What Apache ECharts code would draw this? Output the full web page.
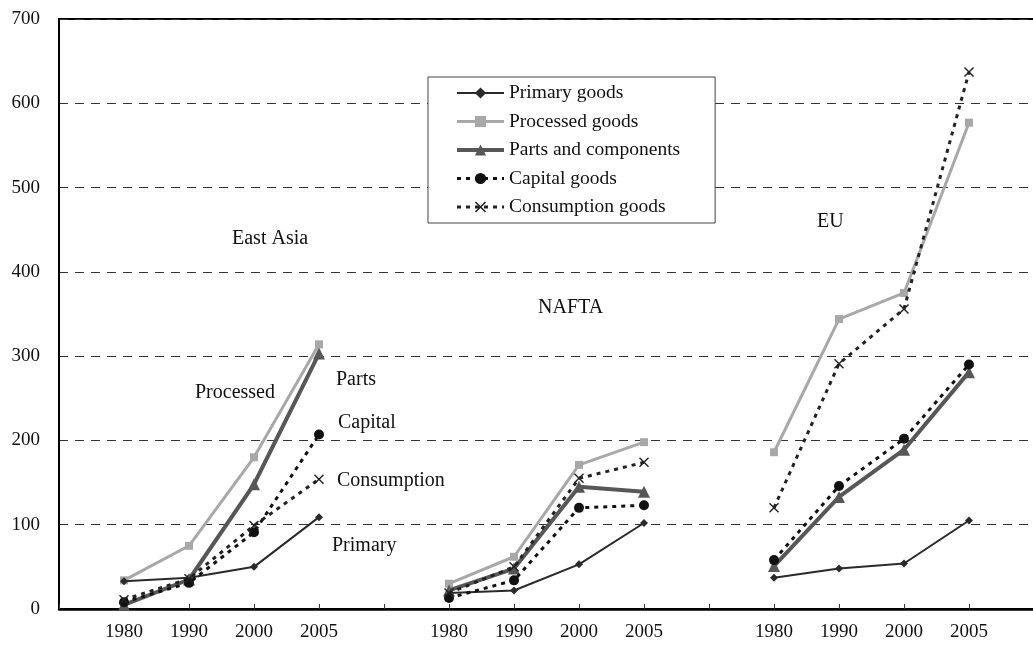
<!DOCTYPE html>
<html>
<head>
<meta charset="utf-8">
<script src="https://cdn.jsdelivr.net/npm/echarts@6/dist/echarts.min.js"></script>
<style>
  html, body { margin: 0; padding: 0; background: #fff; }
  #chart { width: 1033px; height: 648px; }
</style>
</head>
<body>
<div id="chart"></div>
<script>
// x categories: blank slots separate the three regions
const xLabels = ['', '1980', '1990', '2000', '2005', '', '1980', '1990', '2000', '2005', '', '1980', '1990', '2000', '2005', ''];
const yTicks = [0, 100, 200, 300, 400, 500, 600, 700];

// values per series: East Asia (4), NAFTA (4), EU (4)
const primary     = [33, 37, 50, 109,   19, 22, 53, 102,   37, 48, 54, 105];
const processed   = [34, 75, 180, 314,  30, 62, 171, 198,  186, 344, 375, 577];
const parts       = [5, 35, 148, 303,   22, 48, 145, 139,  51, 133, 189, 281];
const capital     = [8, 31, 91, 207,    13, 34, 120, 123,  58, 146, 202, 290];
const consumption = [11, 36, 99, 154,   19, 50, 155, 174,  120, 291, 356, 637];

const seriesNames = ['Primary goods', 'Processed goods', 'Parts and components', 'Capital goods', 'Consumption goods'];

// region labels and curve labels
const notes = [
  { text: 'East Asia', x: 232, y: 240 },
  { text: 'NAFTA', x: 538, y: 309 },
  { text: 'EU', x: 817, y: 223 },
  { text: 'Processed', x: 195, y: 394 },
  { text: 'Parts', x: 336, y: 381 },
  { text: 'Capital', x: 338, y: 424 },
  { text: 'Consumption', x: 337, y: 482 },
  { text: 'Primary', x: 332, y: 547 }
];

// put the 12 values into the 16 slots, leaving the gaps empty
function spread(vals) {
  const out = [];
  let k = 0;
  for (let i = 0; i < xLabels.length; i++) {
    out.push(xLabels[i] === '' ? null : vals[k++]);
  }
  return out;
}

const serif = '"Liberation Serif", "DejaVu Serif", serif';
const crossPath = 'path://M0,1 L1,0 L5,4 L9,0 L10,1 L6,5 L10,9 L9,10 L5,6 L1,10 L0,9 L4,5 Z';

const styles = [
  { symbol: 'diamond', size: 8, color: '#2a2a2a', width: 2, type: 'solid', z: 3 },
  { symbol: 'rect', size: 8, color: '#a8a8a8', width: 3, type: 'solid', z: 2 },
  { symbol: 'triangle', size: 12, color: '#575757', width: 4, type: 'solid', z: 4 },
  { symbol: 'circle', size: 10, color: '#111', width: 3, type: [4, 5], z: 5 },
  { symbol: crossPath, size: 10, color: '#222', width: 3, type: [4, 5], z: 5 }
];
const values = [primary, processed, parts, capital, consumption];

const chart = echarts.init(document.getElementById('chart'));

const option = {
  animation: false,
  backgroundColor: '#fff',
  textStyle: { fontFamily: serif },
  grid: {
    left: 59, right: -1, top: 19, bottom: 39,
    outerBoundsMode: 'none',
    show: true, borderColor: '#000', borderWidth: 2
  },
  legend: {
    data: seriesNames.map((n, i) => ({
      name: n,
      lineStyle: { width: styles[i].width, color: styles[i].color, type: styles[i].type }
    })),
    orient: 'vertical',
    left: 428, top: 77,
    padding: [6, 35, 6, 27],
    itemWidth: 47, itemHeight: 14, itemGap: 8.5,
    backgroundColor: '#fff',
    borderColor: '#444', borderWidth: 1,
    textStyle: { fontFamily: serif, fontSize: 19.5, color: '#111', lineHeight: 20 }
  },
  xAxis: {
    type: 'category',
    data: xLabels,
    boundaryGap: false,
    axisLine: { lineStyle: { color: '#000', width: 2.5 } },
    axisTick: { show: true, inside: true, length: 5, interval: 0, lineStyle: { color: '#333' } },
    axisLabel: { interval: 0, margin: 14, fontFamily: serif, fontSize: 19, color: '#111' },
    splitLine: { show: false }
  },
  yAxis: {
    type: 'value',
    min: yTicks[0], max: yTicks[yTicks.length - 1], interval: 100,
    axisLine: { show: true, lineStyle: { color: '#000', width: 2 } },
    axisTick: { show: false },
    axisLabel: { margin: 19, fontFamily: serif, fontSize: 19, color: '#111' },
    splitLine: { lineStyle: { color: '#333', type: [9, 7], width: 1 } }
  },
  series: seriesNames.map((n, i) => ({
    name: n, type: 'line', data: spread(values[i]), z: styles[i].z,
    symbol: styles[i].symbol, symbolSize: styles[i].size, showAllSymbol: true,
    lineStyle: { color: styles[i].color, width: styles[i].width, type: styles[i].type },
    itemStyle: { color: styles[i].color }
  })),
  graphic: notes.map(n => ({
    type: 'text', left: n.x, top: n.y - 11,
    style: { text: n.text, font: '20px ' + serif, fill: '#111' }
  }))
};

chart.setOption(option);
</script>
</body>
</html>
